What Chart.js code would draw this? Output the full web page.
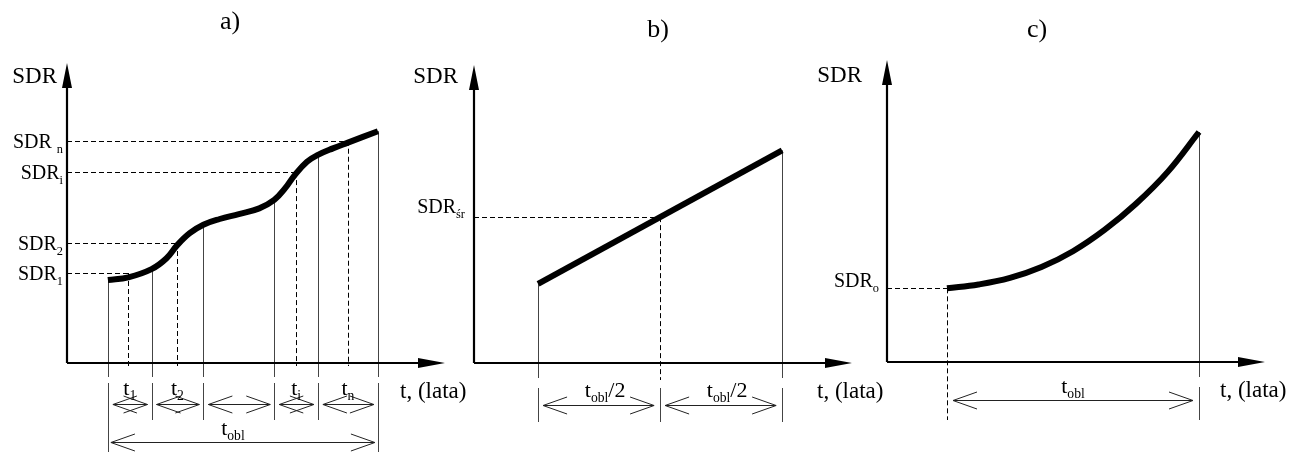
<!DOCTYPE html>
<html>
<head>
<meta charset="utf-8">
<script src="https://cdn.jsdelivr.net/npm/chart.js@4.4.1/dist/chart.umd.min.js"></script>
<style>
  body { margin: 0; background: #fff; }
  #wrap { position: relative; width: 1291px; height: 452px; }
  #wrap canvas { position: absolute; left: 0; top: 0; }
</style>
</head>
<body>
<div id="wrap">
  <canvas id="chartA" width="1291" height="452"></canvas>
  <canvas id="chartB" width="1291" height="452"></canvas>
  <canvas id="chartC" width="1291" height="452"></canvas>
</div>
<script>
// a) SDR growing in steps over the service life (t in years)
const tA = [1.5, 2.25, 3.1, 3.65, 4.05, 4.5, 5.0, 5.6, 6.3, 7.05, 7.6, 8.0, 8.35, 8.8, 9.2, 9.75, 10.3, 11.4];
const sdrA = [3.04, 3.14, 3.44, 3.84, 4.33, 4.76, 5.07, 5.28, 5.46, 5.67, 5.98, 6.41, 6.89, 7.38, 7.63, 7.87, 8.08, 8.5];
const bordersA = [1.5, 3.1, 5.0, 7.6, 9.2, 11.4];
const midsA = [2.25, 4.05, 8.4, 10.3];
const levelsA = [3.3, 4.4, 7.0, 8.15];
const levelSubsA = ['1', '2', 'i', 'n'];
const segSubsA = ['1', '2', '', 'i', 'n'];

// b) linear growth, mean value at half of the period
const tB = [2.1, 10.1];
const sdrB = [2.9, 7.8];
const tHalfB = 6.1;
const sdrMeanB = 5.35;

// c) accelerating growth from SDR_o
const tC = [2.0, 3.05, 4.1, 5.15, 6.2, 7.25, 8.3, 9.35, 10.4];
const sdrC = [2.7, 2.84, 3.08, 3.48, 4.06, 4.84, 5.8, 6.96, 8.43];

const FONT = '"Liberation Serif", "Times New Roman", serif';

function font(px) {
    return px + 'px ' + FONT;
}

// draws text runs, 's' parts are subscripts
function label(ctx, x, y, parts, size, align) {
    let w = 0;
    parts.forEach(p => {
        ctx.font = font(p[1] === 's' ? size * 0.62 : size);
        w += ctx.measureText(p[0]).width;
    });
    let cx = align === 'right' ? x - w : align === 'center' ? x - w / 2 : x;
    ctx.save();
    ctx.textAlign = 'left';
    ctx.textBaseline = 'alphabetic';
    ctx.fillStyle = '#000';
    parts.forEach(p => {
        const sub = p[1] === 's';
        ctx.font = font(sub ? size * 0.62 : size);
        ctx.fillText(p[0], cx, y + (sub ? size * 0.24 : 0));
        cx += ctx.measureText(p[0]).width;
    });
    ctx.restore();
}

function seg(ctx, x1, y1, x2, y2, color, dash) {
    ctx.save();
    ctx.strokeStyle = color || '#333';
    ctx.lineWidth = 1;
    ctx.setLineDash(dash ? [5, 3] : []);
    ctx.beginPath();
    ctx.moveTo(x1, y1);
    ctx.lineTo(x2, y2);
    ctx.stroke();
    ctx.restore();
}

function vline(ctx, x, y1, y2, dash) {
    const px = Math.round(x) + 0.5;
    seg(ctx, px, y1, px, y2, dash ? '#000' : '#444', dash);
}

function hdash(ctx, x1, x2, y) {
    const py = Math.round(y) + 0.5;
    seg(ctx, x1, py, x2, py, '#000', true);
}

function dimArrow(ctx, x1, x2, y) {
    const py = Math.round(y) + 0.5;
    ctx.save();
    ctx.strokeStyle = '#222';
    ctx.lineWidth = 1;
    ctx.beginPath();
    ctx.moveTo(x1, py);
    ctx.lineTo(x2, py);
    ctx.moveTo(x1 + 24, py - 8.5);
    ctx.lineTo(x1, py);
    ctx.lineTo(x1 + 24, py + 8.5);
    ctx.moveTo(x2 - 24, py - 8.5);
    ctx.lineTo(x2, py);
    ctx.lineTo(x2 - 24, py + 8.5);
    ctx.stroke();
    ctx.restore();
}

function axes(chart) {
    const ctx = chart.ctx, a = chart.chartArea;
    const ox = a.left, oy = a.bottom;
    ctx.save();
    ctx.strokeStyle = '#000';
    ctx.fillStyle = '#000';
    ctx.lineWidth = 2.2;
    ctx.beginPath();
    ctx.moveTo(ox, oy);
    ctx.lineTo(ox, a.top + 20);
    ctx.moveTo(ox, oy);
    ctx.lineTo(a.right - 22, oy);
    ctx.stroke();
    ctx.beginPath();
    ctx.moveTo(ox, a.top);
    ctx.lineTo(ox - 5, a.top + 25);
    ctx.lineTo(ox + 5, a.top + 25);
    ctx.closePath();
    ctx.moveTo(a.right, oy);
    ctx.lineTo(a.right - 27, oy - 5);
    ctx.lineTo(a.right - 27, oy + 5);
    ctx.closePath();
    ctx.fill();
    ctx.restore();
}

function makeChart(id, t, v, opts) {
    return new Chart(document.getElementById(id), {
        type: 'line',
        data: {
            datasets: [{
                data: t.map((x, i) => ({ x: x, y: v[i] })),
                borderColor: '#000',
                borderWidth: 6,
                borderCapStyle: 'butt',
                borderJoinStyle: 'round',
                pointRadius: 0,
                tension: opts.curved ? 0.4 : 0
            }]
        },
        options: {
            responsive: false,
            animation: false,
            events: [],
            layout: { padding: opts.pad },
            plugins: { legend: { display: false }, tooltip: { enabled: false } },
            scales: {
                x: { type: 'linear', display: false, min: 0, max: opts.xMax },
                y: { type: 'linear', display: false, min: 0, max: opts.yMax }
            }
        },
        plugins: [{
            id: id + 'Decor',
            beforeDatasetsDraw: opts.under,
            afterDatasetsDraw(chart) {
                axes(chart);
                opts.over(chart);
            }
        }]
    });
}

// panel a
makeChart('chartA', tA, sdrA, {
    curved: true,
    xMax: 13.86, yMax: 11.0,
    pad: { left: 67, right: 846, top: 63, bottom: 89 },
    under(chart) {
        const ctx = chart.ctx, x = chart.scales.x, y = chart.scales.y;
        const ox = x.getPixelForValue(0), oy = y.getPixelForValue(0);
        bordersA.forEach((b, i) => {
            const px = x.getPixelForValue(b);
            vline(ctx, px, y.getPixelForValue(sdrA[tA.indexOf(b)]), oy + 14);
            const outer = i === 0 || i === bordersA.length - 1;
            vline(ctx, px, oy + 20, outer ? oy + 89 : oy + 57);
        });
        midsA.forEach((m, i) => {
            const px = x.getPixelForValue(m), py = y.getPixelForValue(levelsA[i]);
            hdash(ctx, ox, px, py);
            vline(ctx, px, py, oy + 3, true);
        });
    },
    over(chart) {
        const ctx = chart.ctx, x = chart.scales.x, y = chart.scales.y;
        const ox = x.getPixelForValue(0), oy = y.getPixelForValue(0);
        levelsA.forEach((l, i) => {
            const main = levelSubsA[i] === 'n' ? 'SDR ' : 'SDR';
            label(ctx, ox - 4, y.getPixelForValue(l) + 7, [[main, 'n'], [levelSubsA[i], 's']], 20, 'right');
        });
        for (let i = 0; i < bordersA.length - 1; i++) {
            const p1 = x.getPixelForValue(bordersA[i]), p2 = x.getPixelForValue(bordersA[i + 1]);
            dimArrow(ctx, p1 + 5, p2 - 4, oy + 41);
            if (segSubsA[i]) label(ctx, (p1 + p2) / 2, oy + 32, [['t', 'n'], [segSubsA[i], 's']], 22, 'center');
        }
        const pa = x.getPixelForValue(bordersA[0]), pb = x.getPixelForValue(bordersA[bordersA.length - 1]);
        dimArrow(ctx, pa + 3, pb - 3, oy + 79);
        label(ctx, (pa + pb) / 2 - 10, oy + 72, [['t', 'n'], ['obl', 's']], 22, 'center');
        label(ctx, ox - 10, 83, [['SDR', 'n']], 23, 'right');
        label(ctx, chart.chartArea.right - 45, oy + 35, [['t, (lata)', 'n']], 23, 'left');
        label(ctx, 230, 29, [['a)', 'n']], 26, 'center');
    }
});

// panel b
makeChart('chartB', tB, sdrB, {
    curved: false,
    xMax: 12.39, yMax: 10.93,
    pad: { left: 474, right: 439, top: 65, bottom: 89 },
    under(chart) {
        const ctx = chart.ctx, x = chart.scales.x, y = chart.scales.y;
        const ox = x.getPixelForValue(0), oy = y.getPixelForValue(0);
        tB.forEach((t, i) => {
            const px = x.getPixelForValue(t);
            vline(ctx, px, y.getPixelForValue(sdrB[i]), oy + 15);
            vline(ctx, px, oy + 25, oy + 59);
        });
        const hx = x.getPixelForValue(tHalfB), hy = y.getPixelForValue(sdrMeanB);
        hdash(ctx, ox, hx, hy);
        vline(ctx, hx, hy, oy + 17, true);
        vline(ctx, hx, oy + 25, oy + 59);
    },
    over(chart) {
        const ctx = chart.ctx, x = chart.scales.x, y = chart.scales.y;
        const ox = x.getPixelForValue(0), oy = y.getPixelForValue(0);
        const stops = [tB[0], tHalfB, tB[1]].map(t => x.getPixelForValue(t));
        for (let i = 0; i < 2; i++) {
            dimArrow(ctx, stops[i] + 5, stops[i + 1] - 6, oy + 42);
            label(ctx, (stops[i] + stops[i + 1]) / 2 + 6, oy + 34, [['t', 'n'], ['obl', 's'], ['/2', 'n']], 22, 'center');
        }
        label(ctx, ox - 9, y.getPixelForValue(sdrMeanB) - 4, [['SDR', 'n'], ['śr', 's']], 20, 'right');
        label(ctx, ox - 16, 83, [['SDR', 'n']], 23, 'right');
        label(ctx, chart.chartArea.right - 35, oy + 35, [['t, (lata)', 'n']], 23, 'left');
        label(ctx, 658, 37, [['b)', 'n']], 26, 'center');
    }
});

// panel c
makeChart('chartC', tC, sdrC, {
    curved: true,
    xMax: 12.6, yMax: 11.07,
    pad: { left: 887, right: 26, top: 60, bottom: 90 },
    under(chart) {
        const ctx = chart.ctx, x = chart.scales.x, y = chart.scales.y;
        const ox = x.getPixelForValue(0), oy = y.getPixelForValue(0);
        const sx = x.getPixelForValue(tC[0]), sy = y.getPixelForValue(sdrC[0]);
        const ex = x.getPixelForValue(tC[tC.length - 1]);
        hdash(ctx, ox, sx, sy);
        vline(ctx, sx, sy, oy + 58, true);
        vline(ctx, ex, y.getPixelForValue(sdrC[sdrC.length - 1]), oy + 15);
        vline(ctx, ex, oy + 25, oy + 58);
    },
    over(chart) {
        const ctx = chart.ctx, x = chart.scales.x, y = chart.scales.y;
        const ox = x.getPixelForValue(0), oy = y.getPixelForValue(0);
        const sx = x.getPixelForValue(tC[0]), ex = x.getPixelForValue(tC[tC.length - 1]);
        dimArrow(ctx, sx + 6, ex - 6, oy + 38);
        label(ctx, (sx + ex) / 2, oy + 31, [['t', 'n'], ['obl', 's']], 22, 'center');
        label(ctx, ox - 8, y.getPixelForValue(sdrC[0]) - 1, [['SDR', 'n'], ['o', 's']], 20, 'right');
        label(ctx, ox - 25, 82, [['SDR', 'n']], 23, 'right');
        label(ctx, chart.chartArea.right - 45, oy + 35, [['t, (lata)', 'n']], 23, 'left');
        label(ctx, 1037, 37, [['c)', 'n']], 26, 'center');
    }
});
</script>
</body>
</html>
